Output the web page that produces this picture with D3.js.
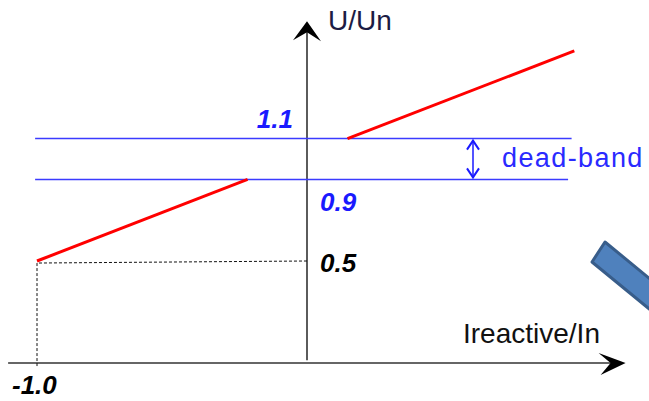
<!DOCTYPE html>
<html><head><meta charset="utf-8">
<script src="https://cdn.jsdelivr.net/npm/d3@7"></script>
<style>html,body{margin:0;padding:0;background:#fff;overflow:hidden}</style>
</head><body>
<svg id="c" width="649" height="401"></svg>
<script>
// Data (per-unit values)
const droopLow = [[-1.0, 0.5], [-0.22, 0.9]];
const droopHigh = [[0.15, 1.1], [0.99, 1.53]];
const bandLevels = [1.1, 0.9];
const bandEnds = [0.98, 0.967];
const yTickLabels = ["1.1", "0.9", "0.5"];
const yTickValues = [1.1, 0.9, 0.5];
const xTickLabels = ["-1.0"];
const xTickValues = [-1.0];
const axisTitles = ["Ireactive/In", "U/Un"];
const bandLabel = "dead-band";

const svg = d3.select("#c");
const x = d3.scaleLinear().domain([-1, 1]).range([37, 577]);
const y = d3.scaleLinear().domain([0, 1]).range([363, 159]);
const font = "'Liberation Sans', Arial, sans-serif";

// axes
svg.append("line").attr("x1", x(-1.107)).attr("x2", x(1.15)).attr("y1", y(0)).attr("y2", y(0))
  .attr("stroke", "#333").attr("stroke-width", 1.6);
svg.append("line").attr("x1", x(0)).attr("x2", x(0)).attr("y1", y(0.013)).attr("y2", y(1.65))
  .attr("stroke", "#333").attr("stroke-width", 1.6);
// arrowheads
const xt = [x(1.18), y(0)];
svg.append("path").attr("d", `M${xt[0]},${xt[1]} L${xt[0]-27},${xt[1]-10} L${xt[0]-15},${xt[1]} L${xt[0]-25},${xt[1]+12} Z`).attr("fill", "#000");
const yt = [x(0), y(1.675)];
svg.append("path").attr("d", `M${yt[0]},${yt[1]} L${yt[0]-14},${yt[1]+19} L${yt[0]},${yt[1]+11} L${yt[0]+14},${yt[1]+20} Z`).attr("fill", "#000");

// dotted guides
svg.append("path")
  .attr("d", `M${x(-1)},${y(-0.015)} L${x(-1)},${y(0.49)} L${x(0)},${y(0.5)}`)
  .attr("fill", "none").attr("stroke", "#111").attr("stroke-width", 1).attr("stroke-dasharray", "3,2");

// dead-band lines
bandLevels.forEach((v, i) => {
  svg.append("line").attr("x1", x(-1.007)).attr("x2", x(bandEnds[i])).attr("y1", y(v)).attr("y2", y(v))
    .attr("stroke", "#3b3bff").attr("stroke-width", 1.5);
});

// red droop
const line = d3.line().x(d => x(d[0])).y(d => y(d[1]));
[droopLow, droopHigh].forEach(seg => {
  svg.append("path").attr("d", line(seg)).attr("fill", "none").attr("stroke", "#ff0000").attr("stroke-width", 3);
});

// dead-band double arrow
const ax = 473, a1 = y(1.1) + 2, a2 = y(0.9) - 2;
svg.append("line").attr("x1", ax).attr("x2", ax).attr("y1", a1).attr("y2", a2).attr("stroke", "#1a1aff").attr("stroke-width", 1.5);
svg.append("path").attr("d", `M${ax-6},${a1+9} L${ax},${a1} L${ax+6},${a1+9} M${ax-6},${a2-9} L${ax},${a2} L${ax+6},${a2-9}`)
  .attr("fill", "none").attr("stroke", "#1a1aff").attr("stroke-width", 2);
svg.append("text").attr("x", 502).attr("y", 167).text(bandLabel)
  .attr("font-family", font).attr("font-size", 27).attr("letter-spacing", 1.4).attr("fill", "#2a2aff");

// tick labels
const tickStyle = sel => sel.attr("font-family", font).attr("font-size", 26).attr("font-weight", "bold").attr("font-style", "italic");
tickStyle(svg.append("text").attr("x", x(0) - 14).attr("y", y(yTickValues[0]) - 11).attr("text-anchor", "end").attr("fill", "#1a1aff").text(yTickLabels[0]));
tickStyle(svg.append("text").attr("x", x(0) + 13).attr("y", y(yTickValues[1]) + 32).attr("fill", "#1a1aff").text(yTickLabels[1]));
tickStyle(svg.append("text").attr("x", x(0) + 13).attr("y", y(yTickValues[2]) + 11).attr("fill", "#000").text(yTickLabels[2]));
tickStyle(svg.append("text").attr("x", x(xTickValues[0]) - 25).attr("y", 394).attr("fill", "#000").text(xTickLabels[0]));

// axis titles
svg.append("text").attr("x", 463).attr("y", 343).text(axisTitles[0])
  .attr("font-family", font).attr("font-size", 28).attr("fill", "#111");
svg.append("text").attr("x", 328).attr("y", 30).text(axisTitles[1])
  .attr("font-family", font).attr("font-size", 28).attr("fill", "#1c1c44");

// blue block arrow (decorative, partly off-canvas)
const dx = 0.773, dy = 0.634, L = 120;
const p1 = [605, 242], p2 = [592, 262];
svg.append("polygon")
  .attr("points", [p1, [p1[0] + dx * L, p1[1] + dy * L], [p2[0] + dx * L, p2[1] + dy * L], p2].map(p => p.join(",")).join(" "))
  .attr("fill", "#4f81bd").attr("stroke", "#385d8a").attr("stroke-width", 3).attr("stroke-linejoin", "round");
</script>
</body></html>
